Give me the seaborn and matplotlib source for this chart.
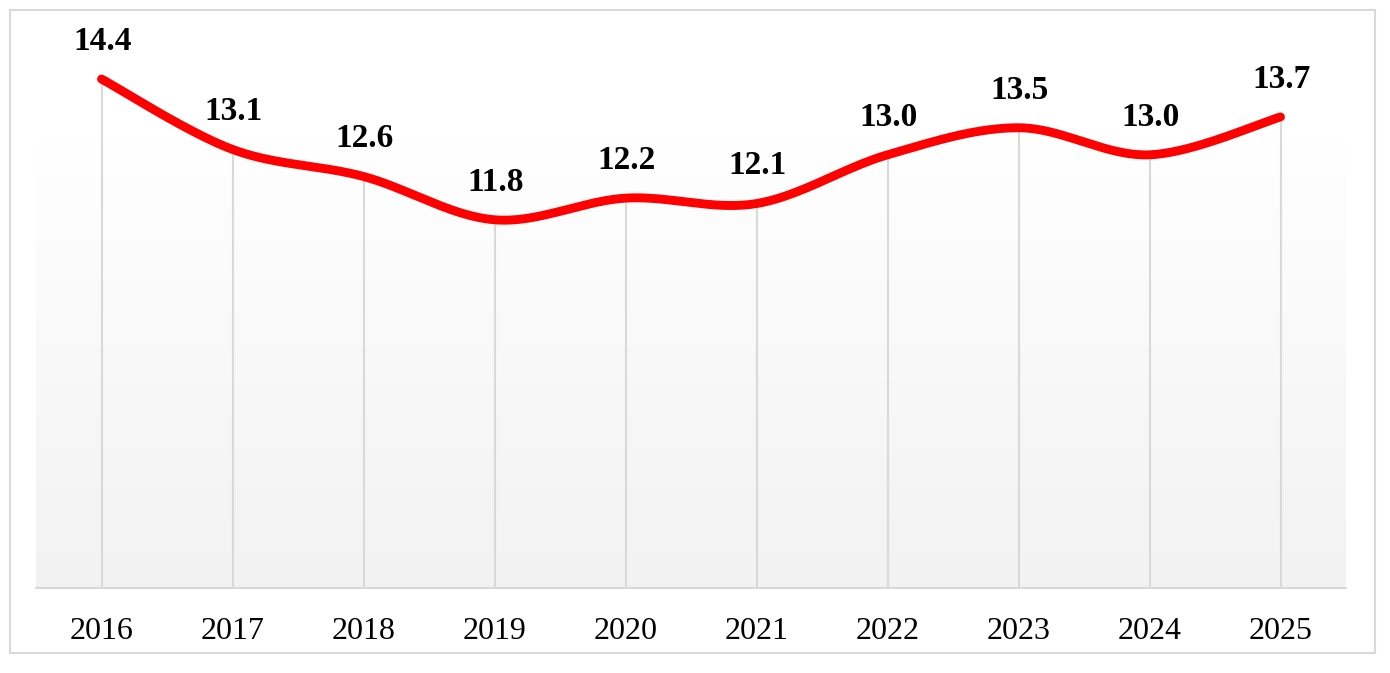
import numpy as np
import pandas as pd
import matplotlib
matplotlib.use("Agg")
import matplotlib.pyplot as plt
import seaborn as sns
from matplotlib.colors import LinearSegmentedColormap
from matplotlib.patches import Rectangle

years = ["2016", "2017", "2018", "2019", "2020", "2021", "2022", "2023", "2024", "2025"]
values = [14.4, 13.1, 12.6, 11.8, 12.2, 12.1, 13.0, 13.5, 13.0, 13.7]
labels = ["14.4", "13.1", "12.6", "11.8", "12.2", "12.1", "13.0", "13.5", "13.0", "13.7"]

sns.set_theme(style="white")
plt.rcParams['font.family'] = ['Liberation Serif', 'DejaVu Serif']

fig = plt.figure(figsize=(13.9, 6.73), dpi=100)
ax = fig.add_axes([36/1390, (673-588)/673, (1346-36)/1390, (588-20)/673])

n = len(values)
x = np.arange(n)
y = np.array(values, dtype=float)

# Smooth curve (Catmull-Rom / Bezier, like spreadsheet smoothed lines)
px = np.concatenate([[x[0]], x, [x[-1]]])
py = np.concatenate([[y[0]], y, [y[-1]]])
sx, sy = [], []
t = np.linspace(0, 1, 40)
for i in range(1, n):
    p0 = np.array([px[i-1], py[i-1]]); p1 = np.array([px[i], py[i]])
    p2 = np.array([px[i+1], py[i+1]]); p3 = np.array([px[i+2], py[i+2]])
    c1 = p1 + (p2 - p0) / 6
    c2 = p2 - (p3 - p1) / 6
    b = ((1-t)**3)[:, None]*p1 + (3*(1-t)**2*t)[:, None]*c1 + (3*(1-t)*t**2)[:, None]*c2 + (t**3)[:, None]*p2
    sx.extend(b[:, 0]); sy.extend(b[:, 1])

ymin, ymax = 5.0, 15.49
ax.set_xlim(-0.5, n - 0.5)
ax.set_ylim(ymin, ymax)

# gradient plot-area fill
cmap = LinearSegmentedColormap.from_list("g", ["#f2f2f2", "#ffffff"])
grad = np.linspace(0, 1, 256).reshape(-1, 1)
ax.imshow(grad, cmap=cmap, aspect="auto", origin="lower",
          extent=(-0.5, n - 0.5, ymin, 13.27), zorder=0)

# drop lines
ax.vlines(x, ymin, y, color="#d9d9d9", linewidth=1.5, zorder=1)

df = pd.DataFrame({"x": sx, "y": sy})
sns.lineplot(data=df, x="x", y="y", ax=ax, color="#ff0000", linewidth=6.4,
             sort=False, solid_capstyle="round", zorder=3)

for xi, yi, lab in zip(x, y, labels):
    ax.annotate(lab, (xi, yi), xytext=(1, 16), textcoords="offset points",
                ha="center", va="bottom", fontsize=24, fontweight="bold",
                color="#000000")

for s in ["top", "right", "left"]:
    ax.spines[s].set_visible(False)
ax.spines["bottom"].set_color("#d9d9d9")
ax.spines["bottom"].set_linewidth(1.5)
ax.set_yticks([])
ax.set_xticks(x)
ax.set_xticklabels(years, fontsize=23, color="#000000")
ax.tick_params(axis="x", length=0, pad=21)
ax.set_xlabel("")
ax.set_ylabel("")
ax.set_facecolor("white")

fig.patches.append(Rectangle((10/1390, (673-653)/673), (1375-10)/1390, (653-10)/673,
                             transform=fig.transFigure, fill=False,
                             edgecolor="#d9d9d9", linewidth=1.5))

fig.savefig("out.png", dpi=100)
